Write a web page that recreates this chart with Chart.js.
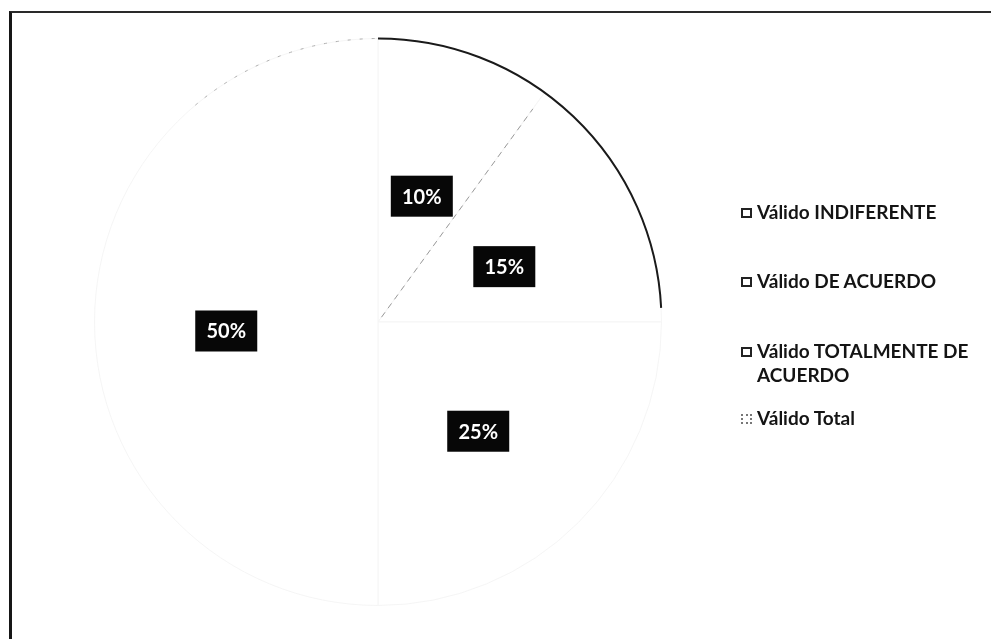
<!DOCTYPE html>
<html>
<head>
<meta charset="utf-8">
<script src="https://cdn.jsdelivr.net/npm/chart.js@4.4.1/dist/chart.umd.min.js"></script>
<style>
  html, body { margin: 0; padding: 0; background: #fff; }
  #frame {
    position: relative;
    width: 991px; height: 639px;
    overflow: hidden;
    font-family: Lato, "Open Sans", sans-serif;
  }
  #frame:before {
    content: ""; position: absolute; left: 9px; top: 11px; right: 0; bottom: 0;
    border-left: 3px solid #161616; border-top: 2px solid #2a2a2a;
    pointer-events: none;
  }
  #pieWrap { position: absolute; left: 0; top: 0; width: 756px; height: 639px; }
  #legend { position: absolute; left: 740px; top: 200px; width: 251px; }
  .item { display: flex; align-items: flex-start; font-weight: bold; font-size: 19px; color: #141414; line-height: 24px; }
  .box { width: 7px; height: 6px; border: 2px solid #222; background: #fff; margin: 8px 5px 0 1px; flex: none; }
</style>
</head>
<body>
<div id="frame">
  <div id="pieWrap"><canvas id="chPie"></canvas></div>
  <div id="legend"></div>
</div>
<script>
// chart values
const categories = ['Válido INDIFERENTE', 'Válido DE ACUERDO', 'Válido TOTALMENTE DE ACUERDO', 'Válido Total'];
const percents = [10, 15, 25, 50];
const sliceColors = ['#ffffff', '#ffffff', '#ffffff', '#ffffff'];
const legendTops = [0, 69, 139, 206]; // spacing of the legend rows

// Black boxes with white percentage, placed near each slice's centroid
const pctLabels = {
  id: 'pctLabels',
  afterDatasetsDraw(chart) {
    const ctx = chart.ctx;
    const meta = chart.getDatasetMeta(0);
    ctx.save();
    ctx.font = 'bold 20px Lato, "Open Sans", sans-serif';
    ctx.textAlign = 'center';
    ctx.textBaseline = 'middle';
    meta.data.forEach((arc, i) => {
      const p = arc.tooltipPosition();
      const cx = p.x - (i === 3 ? 10 : 0), cy = p.y + 9; // excel nudges labels a bit lower
      const w = 62, h = 41;
      ctx.fillStyle = '#070707';
      ctx.fillRect(cx - w / 2, cy - h / 2, w, h);
      ctx.fillStyle = '#ffffff';
      ctx.fillText(percents[i] + '%', cx, cy + 1);
    });
    ctx.restore();
  }
};

// The scan only keeps the outline on the upper right and one faint divider
const scanOutline = {
  id: 'scanOutline',
  afterDatasetsDraw(chart) {
    const ctx = chart.ctx;
    const arcs = chart.getDatasetMeta(0).data;
    const a0 = arcs[0], a1 = arcs[1], a3 = arcs[3];
    ctx.save();
    ctx.strokeStyle = '#1a1a1a';
    ctx.lineWidth = 2;
    ctx.beginPath();
    ctx.arc(a0.x, a0.y, a0.outerRadius, a0.startAngle, a1.endAngle - 0.05);
    ctx.stroke();
    // faint dotted remains on the upper left
    ctx.strokeStyle = '#b0b0b0';
    ctx.lineWidth = 1;
    ctx.setLineDash([3, 9]);
    ctx.beginPath();
    ctx.arc(a3.x, a3.y, a3.outerRadius, a3.endAngle - 0.7, a3.endAngle);
    ctx.stroke();
    // divider between the first two slices
    ctx.strokeStyle = '#9a9a9a';
    ctx.setLineDash([6, 5]);
    const ang = a0.endAngle;
    ctx.beginPath();
    ctx.moveTo(a0.x + Math.cos(ang) * 6, a0.y + Math.sin(ang) * 6);
    ctx.lineTo(a0.x + Math.cos(ang) * (a0.outerRadius - 20), a0.y + Math.sin(ang) * (a0.outerRadius - 20));
    ctx.stroke();
    ctx.restore();
  }
};

const chart = new Chart(document.getElementById('chPie'), {
  type: 'pie',
  data: {
    labels: categories,
    datasets: [{
      data: percents,
      backgroundColor: sliceColors,
      borderColor: '#f5f5f5',
      borderWidth: 1
    }]
  },
  options: {
    responsive: true,
    maintainAspectRatio: false,
    animation: false,
    layout: { padding: { top: 38, bottom: 33 } },
    plugins: { legend: { display: false }, tooltip: { enabled: false } }
  },
  plugins: [scanOutline, pctLabels]
});

// HTML legend so the long label can wrap like the original
const legendEl = document.getElementById('legend');
categories.forEach((name, i) => {
  const row = document.createElement('div');
  row.className = 'item';
  row.style.position = 'absolute';
  row.style.top = legendTops[i] + 'px';
  row.style.left = '0px';
  row.style.width = '248px';
  const box = document.createElement('span');
  box.className = 'box';
  if (i === 2) box.style.borderStyle = 'dashed';
  if (i === 3) { box.style.borderStyle = 'dotted'; box.style.borderColor = '#777'; }
  const txt = document.createElement('span');
  txt.textContent = name;
  row.appendChild(box); row.appendChild(txt);
  legendEl.appendChild(row);
});
</script>
</body>
</html>
